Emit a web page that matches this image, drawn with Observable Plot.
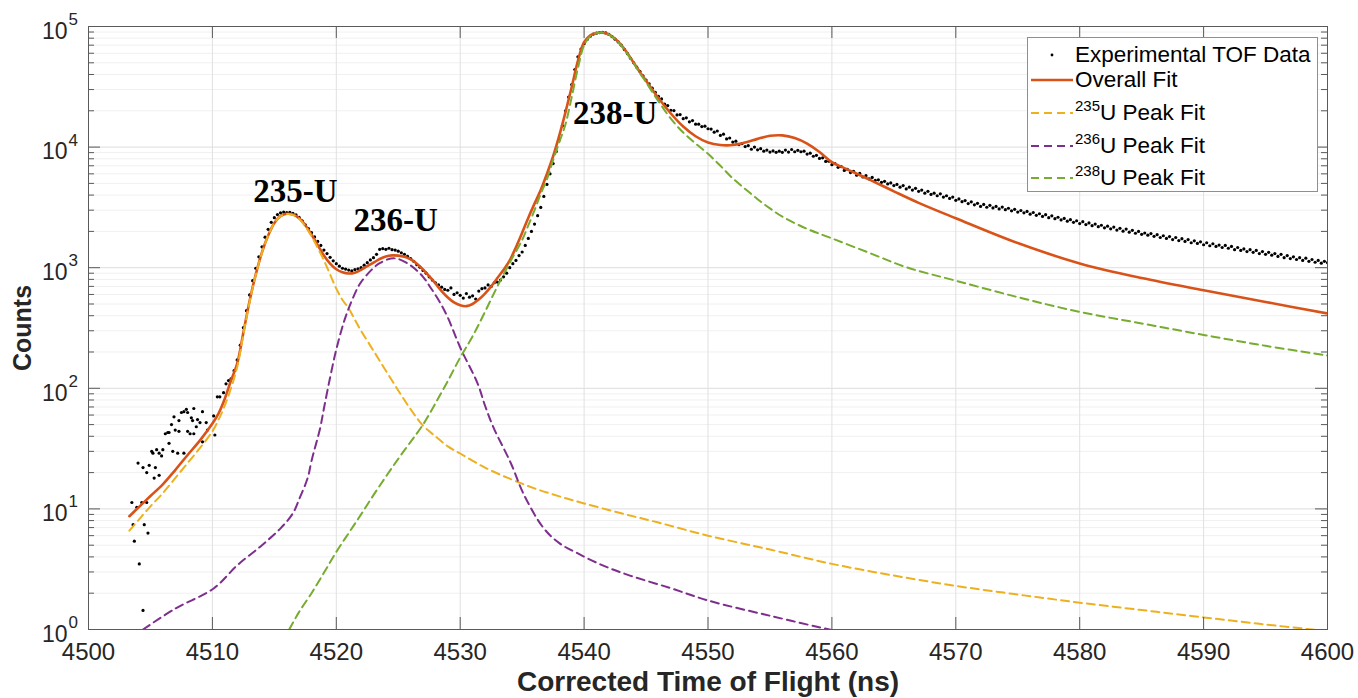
<!DOCTYPE html>
<html><head><meta charset="utf-8">
<script src="https://cdn.jsdelivr.net/npm/d3@7"></script>
<script src="https://cdn.jsdelivr.net/npm/@observablehq/plot@0.6"></script>
<style>
body{margin:0;background:#fff;}
#wrap{position:relative;width:1358px;height:698px;font-family:"Liberation Sans",Arial,sans-serif;color:#000;}
#legend{position:absolute;left:1027px;top:37px;width:291px;height:155px;border:1px solid #8f8f8f;background:#fff;box-sizing:border-box;}
.row{position:absolute;left:0;height:26px;width:288px;}
.row svg{position:absolute;left:3px;top:8px;}
.row .lab{position:absolute;left:47px;top:0;line-height:26px;font-size:22.5px;white-space:nowrap;color:#000;}
.row .sup{font-size:15px;position:relative;top:-9px;}
</style></head>
<body><div id="wrap"></div>
<script>
// ---- tick labels ----
const xTicks = [4500, 4510, 4520, 4530, 4540, 4550, 4560, 4570, 4580, 4590, 4600];
const yExponents = [0, 1, 2, 3, 4, 5];

// ---- experimental TOF data: sparse early part (ns, counts) ----
const earlyTimes = [4503.5,4503.9,4504.3,4504.7,4503.6,4504.5,4503.7,4504.8,4504.1,4504.4,4504.0,4504.4,4504.7,4504.9,4505.4,4505.3,4505.7,4505.1,4505.2,4505.5,4505.7,4505.9,4506.0,4506.2,4506.4,4506.5,4506.5,4506.7,4506.8,4507.2,4507.0,4507.3,4506.9,4507.3,4507.5,4507.7,4507.9,4508.0,4508.5,4508.3,4508.4,4508.8,4509.0,4509.2,4508.0,4508.2,4508.5,4508.7,4507.7,4509.2,4509.5,4510.1,4510.2,4509.6,4510.4,4510.6,4510.9,4511.1,4511.3];
const earlyCounts = [11.3,10.3,11.3,11.3,7.4,7.4,5.4,6.3,3.5,1.44,24,22,20,23,22,18,19,30,29,31,29,27.5,31,42,43,43,35,50,30,29,45,44,58,54,63,64,67,63,68,57,54,55,52,64,44,42,42,48,29,36,52,59,41,45,85,85,92,109,116];

// ---- experimental TOF data: 0.25 ns bins from 4511.5 ns ----
const expStart = 4511.5, expBin = 0.25;
const expCounts = [
120,140,
172,228,318,440, 595,780,990,1230, 1490,1790,2080,2380, 2600,2760,2850,2890,
2860,2880,2820,2740, 2610,2450,2270,2110, 1950,1800,1650,1530, 1400,1310,1220,1140,
1080,1030,990,975, 955,940,965,980, 1000,1050,1100,1160, 1210,1290,1420,1440,
1420,1450,1410,1400, 1370,1330,1290,1240, 1190,1130,1060,1010, 950,900,840,790,
750,720,690,660, 650,680,600,620, 590,560,610,570, 585,550,640,670,
680,720,700,750, 760,790,840,900, 1000,1080,1150,1260, 1350,1530,1750,2000,
2300,2700,3160,3900, 4900,6000,7300,9200, 11500,15000,20000,26000, 33000,44000,56000,65000,
72000,78000,83000,86500, 88000,89000,89500,88500, 86000,82500,78500,74500, 70000,64500,59500,54500,
50000,46000,42500,39000, 36000,33500,30800,28500,
26300,25100,22700,22100, 20200,20100,18500,18600, 17200,17500,16200,16600, 15500,15500,14800,14900,
14200,14100,13300,13600, 12500,12800,11700,11900, 11000,11200,10500,10700, 10100,10300,9600,10000,
9500,9700,9250,9450, 9100,9300,9050,9250, 9050,9450,9100,9550, 9150,9400,9150,9250,
8750,8900,8400,8550, 8050,8150,7600,7650, 7150,7300,6800,6900, 6400,6550,6150,6300,
5850,6050,5650,5800, 5450,5600,5300,5350, 5100,5200,4950,5050, 4800,4900,4650,4800,
4500,4650,4400,4550, 4300,4400,4150,4300, 4050,4150,3950,4100, 3850,3950,3750,3850,
3620,3720,3530,3600, 3400,3520,3320,3420, 3220,3350,3170,3290, 3130,3220,3070,3180,
3030,3110,2960,3050, 2890,2980,2850,2930, 2780,2870,2720,2800, 2660,2750,2600,2690,
2550,2620,2490,2560, 2430,2500,2380,2450, 2320,2410,2280,2350, 2230,2300,2190,2250,
2140,2210,2100,2170, 2050,2120,2010,2090, 1970,2040,1930,2000, 1890,1940,1860,1920,
1820,1880,1780,1840, 1750,1810,1710,1780, 1680,1740,1650,1710, 1610,1670,1590,1640,
1550,1610,1520,1580, 1500,1540,1470,1530, 1450,1500,1410,1470, 1390,1430,1360,1410,
1340,1390,1310,1360, 1290,1340,1270,1310, 1240,1290,1210,1260, 1190,1230,1170,1210,
1150,1200,1130,1170, 1110,1150,1090,1130, 1100
];

// ---- fits: [ns, counts] ----
const overallFit = [[4503.3,8.7],[4504,10.2],[4505,12.8],[4506,16],[4507,21],[4508,28],[4509,37],[4510,51],[4510.5,62],[4511,82],[4511.5,116],[4512,160],[4512.5,290],[4513,530],[4513.5,880],[4514,1340],[4514.5,1850],[4515,2350],[4515.5,2680],[4516,2800],[4516.5,2760],[4517,2570],[4517.5,2250],[4518,1880],[4518.5,1540],[4519,1260],[4519.5,1080],[4520,970],[4520.5,915],[4521,895],[4521.5,910],[4522,960],[4522.5,1030],[4523,1100],[4523.5,1180],[4524,1240],[4524.5,1265],[4525,1260],[4525.5,1230],[4526,1170],[4526.5,1080],[4527,970],[4527.5,850],[4528,740],[4528.5,640],[4529,566],[4529.5,515],[4530,488],[4530.5,480],[4531,500],[4531.5,545],[4532,610],[4532.5,700],[4533,820],[4533.5,960],[4534,1150],[4534.5,1480],[4535,1950],[4535.5,2600],[4536,3400],[4536.5,4400],[4537,6000],[4537.5,8400],[4538,12500],[4538.5,19500],[4539,31500],[4539.5,52000],[4540,74000],[4540.5,84500],[4541,88500],[4541.5,89000],[4542,86000],[4542.5,79000],[4543,70000],[4543.5,60000],[4544,50000],[4544.5,42000],[4545,35500],[4545.5,30000],[4546,25500],[4547,19000],[4548,14800],[4549,12300],[4550,10900],[4551,10400],[4552,10400],[4553,10900],[4554,11700],[4555,12400],[4556,12500],[4557,11900],[4558,10700],[4559,9100],[4560,7500],[4561,6700],[4563,5400],[4565,4300],[4567,3450],[4570,2570],[4575,1600],[4580,1085],[4585,820],[4590,650],[4595,520],[4600,417]];
const u235Fit = [[4503.3,6.6],[4504,8.0],[4505,10.5],[4506,13.5],[4507,18],[4508,24],[4509,32],[4510,44],[4510.5,55],[4511,72],[4511.5,100],[4512,150],[4512.5,280],[4513,520],[4513.5,870],[4514,1330],[4514.5,1840],[4515,2340],[4515.5,2670],[4516,2790],[4516.5,2740],[4517,2540],[4517.5,2200],[4518,1820],[4518.5,1460],[4519,1150],[4519.5,880],[4520,670],[4520.5,540],[4521,460],[4521.5,370],[4522,300],[4523,205],[4524,140],[4525,96],[4526,67],[4527,49],[4528,40],[4529,33],[4530,28.8],[4532,22],[4534,17.8],[4536,14.8],[4538,12.7],[4540,11.1],[4543,9.2],[4546,7.7],[4550,6.0],[4555,4.6],[4560,3.5],[4565,2.8],[4570,2.3],[4575,1.95],[4580,1.67],[4585,1.45],[4590,1.26],[4595,1.1],[4600,0.97]];
const u236Fit = [[4504.4,1.0],[4507,1.49],[4510.1,2.19],[4512,3.4],[4514,5.0],[4515.5,6.9],[4516.5,9.2],[4517,12],[4517.7,18.2],[4518,25],[4518.7,47],[4519,68],[4519.5,123],[4520,210],[4520.6,351],[4521,460],[4521.7,675],[4522,760],[4522.8,950],[4523.5,1090],[4524.4,1190],[4525,1180],[4526,1045],[4527,840],[4527.6,686],[4528.3,530],[4529,386],[4530,218],[4531.4,110],[4532,72],[4532.7,47],[4534.1,23.8],[4535.1,13.4],[4536.7,7.0],[4538,5.2],[4539.5,4.27],[4541.5,3.4],[4543.7,2.8],[4547,2.2],[4550,1.74],[4555,1.3],[4560,0.99],[4561,0.95]];
const u238Fit = [[4516.2,1.0],[4517,1.4],[4518,2.0],[4519,2.95],[4520,4.4],[4521,6.3],[4522,9.0],[4523,13],[4524,18.5],[4525,26],[4526,36],[4527,50],[4528,75],[4529,115],[4530,180],[4531,270],[4532,430],[4533,700],[4534,1100],[4535,1700],[4535.5,2250],[4536,3000],[4536.5,4100],[4537,5400],[4537.5,7800],[4538,11000],[4538.5,15500],[4539,26000],[4539.5,45000],[4540,70000],[4540.5,83000],[4541,88000],[4541.5,89000],[4542,85500],[4542.5,78500],[4543,69500],[4543.5,59000],[4544,49500],[4544.5,41000],[4545,34500],[4546,24000],[4547,17200],[4548,13200],[4549,10700],[4550,8800],[4551,7000],[4552,5500],[4553,4500],[4554,3700],[4555,3100],[4556,2650],[4558,2100],[4560,1750],[4563,1330],[4566,1010],[4570,780],[4575,570],[4580,430],[4585,345],[4590,277],[4595,225],[4600,187]];

// ---- annotation labels ----
const peakLabels = [
  {t: 4516.7, c: 4300, label: "235-U"},
  {t: 4524.8, c: 2480, label: "236-U"},
  {t: 4542.5, c: 19000, label: "238-U"}
];

// ---- build tables ----
const expData = earlyTimes.map((t, i) => ({t, c: earlyCounts[i]}))
  .concat(expCounts.map((c, i) => ({t: expStart + i * expBin, c})));
const asRows = arr => arr.map(([t, c]) => ({t, c}));
const yMajor = yExponents.map(e => 10 ** e);
const yMinor = [];
for (const e of yExponents.slice(0, -1)) for (let m = 2; m <= 9; m++) yMinor.push(m * 10 ** e);

const W = 1358, H = 698, mL = 88, mR = 31, mT = 26, mB = 69;
const pw = W - mL - mR, ph = H - mT - mB;
const axisCol = "#5a5a5a", txtCol = "#262626";
const dash = "8,5";

const chart = Plot.plot({
  width: W, height: H,
  marginLeft: mL, marginRight: mR, marginTop: mT, marginBottom: mB,
  style: {fontFamily: "Liberation Sans, Arial, sans-serif", background: "#fff"},
  x: {domain: [4500, 4600], axis: null},
  y: {type: "log", domain: [1, 1e5], axis: null},
  marks: [
    Plot.ruleY(yMinor, {y: d => d, stroke: "#f0f0f0", strokeWidth: 1}),
    Plot.ruleY(yMajor, {y: d => d, stroke: "#dddddd", strokeWidth: 1}),
    Plot.ruleX(xTicks, {x: d => d, stroke: "#e0e0e0", strokeWidth: 1}),
    Plot.dot(expData, {x: "t", y: "c", r: 1.6, fill: "#000", clip: true}),
    Plot.line(asRows(overallFit), {x: "t", y: "c", stroke: "#D95319", strokeWidth: 2.6, curve: "catmull-rom", clip: true}),
    Plot.line(asRows(u235Fit), {x: "t", y: "c", stroke: "#EDB120", strokeWidth: 2, strokeDasharray: dash, curve: "catmull-rom", clip: true}),
    Plot.line(asRows(u236Fit), {x: "t", y: "c", stroke: "#7E2F8E", strokeWidth: 2, strokeDasharray: dash, curve: "catmull-rom", clip: true}),
    Plot.line(asRows(u238Fit), {x: "t", y: "c", stroke: "#77AC30", strokeWidth: 2, strokeDasharray: dash, curve: "catmull-rom", clip: true}),
    // inward ticks
    Plot.tickX(xTicks, {x: d => d, insetTop: ph - 12, stroke: axisCol}),
    Plot.tickX(xTicks, {x: d => d, insetBottom: ph - 12, stroke: axisCol}),
    Plot.tickY(yMajor, {y: d => d, insetRight: pw - 12, stroke: axisCol}),
    Plot.tickY(yMinor, {y: d => d, insetRight: pw - 6, stroke: axisCol}),
    Plot.tickY(yMajor, {y: d => d, insetLeft: pw - 12, stroke: axisCol}),
    Plot.tickY(yMinor, {y: d => d, insetLeft: pw - 6, stroke: axisCol}),
    Plot.frame({stroke: axisCol, strokeWidth: 1}),
    // tick labels
    Plot.text(xTicks, {x: d => d, frameAnchor: "bottom", lineAnchor: "middle", text: d => String(d), dy: 23, fontSize: 24, fill: txtCol}),
    Plot.text(yExponents, {y: d => 10 ** d, frameAnchor: "left", text: () => "10", textAnchor: "end", dx: -21, dy: 5, fontSize: 23, fill: txtCol}),
    Plot.text(yExponents, {y: d => 10 ** d, frameAnchor: "left", text: d => String(d), textAnchor: "start", dx: -20, dy: -7, fontSize: 17, fill: txtCol}),
    // axis titles
    Plot.text(["Corrected Time of Flight (ns)"], {frameAnchor: "bottom", lineAnchor: "middle", textAnchor: "middle", dy: 53, fontSize: 28, fontWeight: "bold", fill: txtCol}),
    Plot.text(["Counts"], {frameAnchor: "left", lineAnchor: "middle", textAnchor: "middle", dx: -66, rotate: -90, fontSize: 25, fontWeight: "bold", fill: txtCol}),
    // peak labels
    Plot.text(peakLabels, {x: "t", y: "c", text: "label", fontFamily: "Liberation Serif, Times New Roman, serif", fontWeight: "bold", fontSize: 33, fill: "#000"})
  ]
});
const wrap = document.getElementById("wrap");
wrap.appendChild(chart);

// ---- legend ----
const legendItems = [
  {kind: "dot", pre: "", text: "Experimental TOF Data", color: "#000", top: 4},
  {kind: "line", pre: "", text: "Overall Fit", color: "#D95319", top: 29},
  {kind: "dash", pre: "235", text: "U Peak Fit", color: "#EDB120", top: 62},
  {kind: "dash", pre: "236", text: "U Peak Fit", color: "#7E2F8E", top: 95},
  {kind: "dash", pre: "238", text: "U Peak Fit", color: "#77AC30", top: 127}
];
const leg = document.createElement("div");
leg.id = "legend";
for (const it of legendItems) {
  const row = document.createElement("div");
  row.className = "row";
  row.style.top = it.top + "px";
  let sample;
  if (it.kind === "dot") sample = `<circle cx="21" cy="5" r="1.4" fill="#000"/>`;
  else if (it.kind === "line") sample = `<line x1="0" x2="42" y1="5" y2="5" stroke="${it.color}" stroke-width="2.6"/>`;
  else sample = `<line x1="0" x2="42" y1="5" y2="5" stroke="${it.color}" stroke-width="2" stroke-dasharray="${dash}"/>`;
  row.innerHTML = `<svg width="44" height="10">${sample}</svg><span class="lab">${it.pre ? `<span class="sup">${it.pre}</span>` : ""}${it.text}</span>`;
  leg.appendChild(row);
}
wrap.appendChild(leg);
</script>
</body></html>
